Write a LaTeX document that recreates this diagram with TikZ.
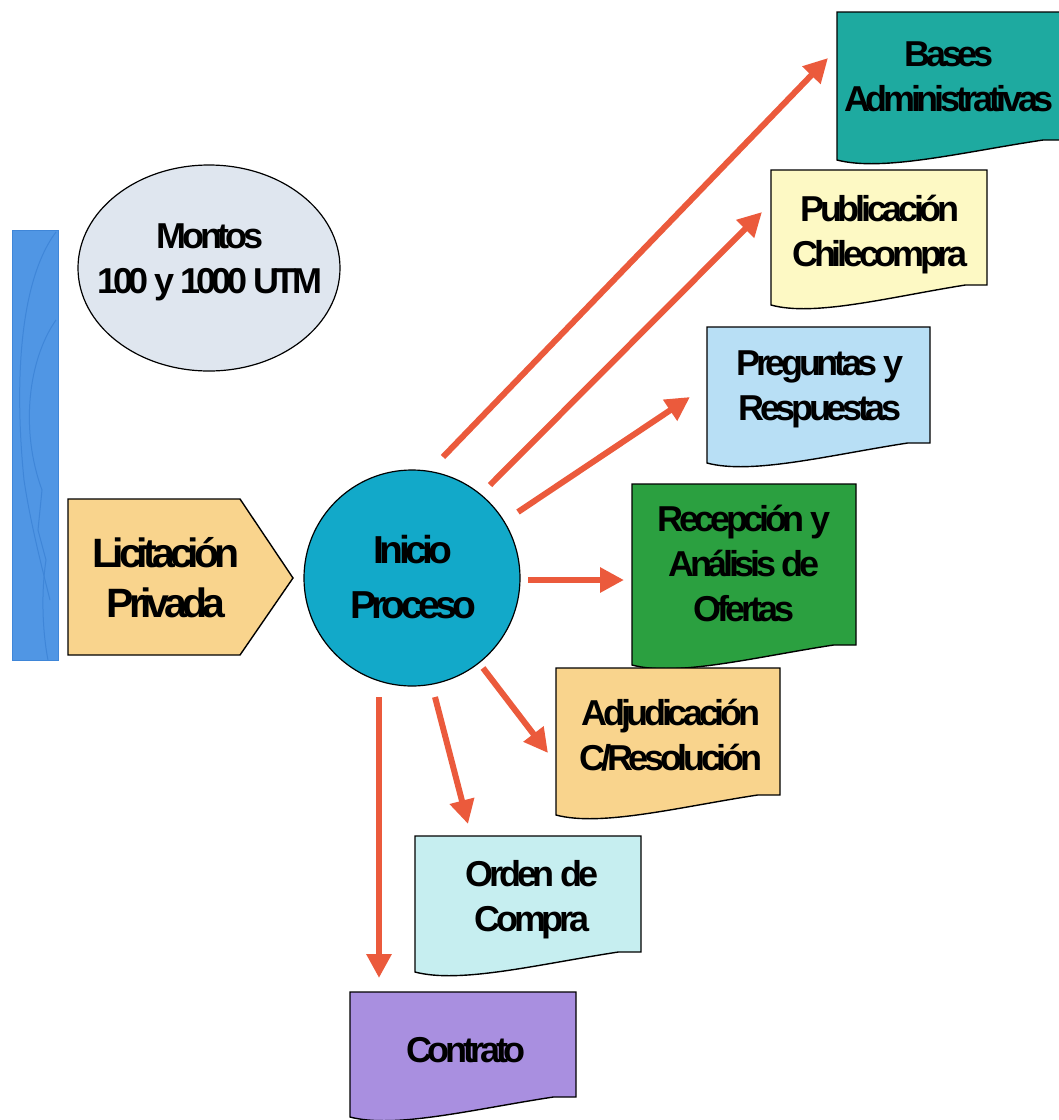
\documentclass[tikz,border=0pt]{standalone}
\usepackage{fontspec}
\setmainfont{Liberation Sans}
\newfontfamily\lblfont[LetterSpace=-12]{Liberation Sans}
\usetikzlibrary{arrows.meta,shapes.geometric,shapes.misc}
\definecolor{arrowred}{HTML}{EB5A3C}
\definecolor{cBases}{HTML}{1EAAA0}
\definecolor{cPub}{HTML}{FDF9C4}
\definecolor{cPreg}{HTML}{B8DFF5}
\definecolor{cRec}{HTML}{2BA040}
\definecolor{cAdj}{HTML}{F9D48D}
\definecolor{cOrden}{HTML}{C6EEF0}
\definecolor{cContr}{HTML}{A98FE0}
\definecolor{cLic}{HTML}{F9D48D}
\definecolor{cIni}{HTML}{12A9C9}
\definecolor{cMont}{HTML}{DFE6EF}
\definecolor{cBar}{HTML}{5096E4}
\definecolor{cBarL}{HTML}{3F86D8}
\newcommand{\mydoc}[5]{%
  \draw[docline, fill=#5] (#1,#2) -- (#3,#2) -- (#3,#4-20) -- (#3-0.1*#3+0.1*#1,#4-20)
    .. controls (#1+0.55*#3-0.55*#1,#4-8) and (#1+0.2*#3-0.2*#1,#4+12) .. (#1,#4) -- cycle;}
\tikzset{
  docline/.style={draw=black, line width=1.4pt},
  lbl/.style={font=\lblfont\bfseries\fontsize{36}{45}\selectfont, align=center, text=black, inner sep=0pt},
  conn/.style={draw=arrowred, line width=6pt, -{Triangle[length=24pt,width=24pt]}},
}
\begin{document}
\begin{tikzpicture}[x=1pt,y=-1pt]
\useasboundingbox (0,0) rectangle (1059,1120);
% blue bar
\fill[cBar] (12,230) rectangle (58,660);
\draw[cBarL, line width=1pt] (56,232) .. controls (20,280) and (14,380) .. (24,480) .. controls (30,520) and (40,560) .. (50,600);
\draw[cBarL, line width=1pt] (56,320) .. controls (28,360) and (20,430) .. (42,490) -- (38,530) -- (46,560) .. controls (40,600) and (44,640) .. (48,660);
\draw[cBarL, line width=0.8pt] (12,230) rectangle (58,660);
% Montos ellipse
\node[ellipse, draw=black, line width=1.2pt, fill=cMont, minimum width=262pt, minimum height=206pt] (montos) at (209,268) {};
\node[lbl] (montostxt) at (210,262) {Montos\\100 y 1000 UTM};
% Licitacion pentagon
\draw[docline, fill=cLic] (68,499) -- (240,499) -- (293,578) -- (240,655) -- (68,655) -- cycle;
\node[lbl, font=\lblfont\bfseries\fontsize{41}{50}\selectfont] (lic) at (166,578) {Licitación\\Privada};
% Inicio circle
\node[circle, draw=black, line width=1.2pt, fill=cIni, minimum size=216pt] (inicio) at (412,578) {};
\node[lbl, font=\lblfont\bfseries\fontsize{39}{55}\selectfont] (initxt) at (413,577) {Inicio\\Proceso};
% documents
\mydoc{837}{12}{1066}{160}{cBases}
\node[lbl] (bases) at (949,77) {Bases\\Administrativas};
\mydoc{771}{170}{987}{305}{cPub}
\node[lbl] (pub) at (880,235) {Publicación\\Chilecompra};
\mydoc{707}{327}{930}{463}{cPreg}
\node[lbl] (preg) at (820,389) {Preguntas y\\Respuestas};
\mydoc{632}{484}{856}{665}{cRec}
\node[lbl] (rec) at (744,563) {Recepción y\\Análisis de\\Ofertas};
\mydoc{556}{668}{780}{815}{cAdj}
\node[lbl] (adj) at (671,735) {Adjudicación\\C/Resolución};
\mydoc{415}{836}{641}{972}{cOrden}
\node[lbl] (orden) at (532,900) {Orden de\\Compra};
\mydoc{350}{992}{576}{1117}{cContr}
\node[lbl] (contr) at (466,1050) {Contrato};
% arrow coordinates
\coordinate (s1) at (443,457); \coordinate (e1) at (828,58);
\coordinate (s2) at (490,485); \coordinate (e2) at (762,212);
\coordinate (s3) at (518,512); \coordinate (e3) at (690,397);
\coordinate (s4) at (528,580); \coordinate (e4) at (624,580);
\coordinate (s5) at (483,668); \coordinate (e5) at (548,753);
\coordinate (s6) at (435,697); \coordinate (e6) at (468,824);
\coordinate (s7) at (379,697); \coordinate (e7) at (379,978);
\foreach \i in {1,...,7} {\draw[conn] (s\i) -- (e\i);}
\end{tikzpicture}
\end{document}
